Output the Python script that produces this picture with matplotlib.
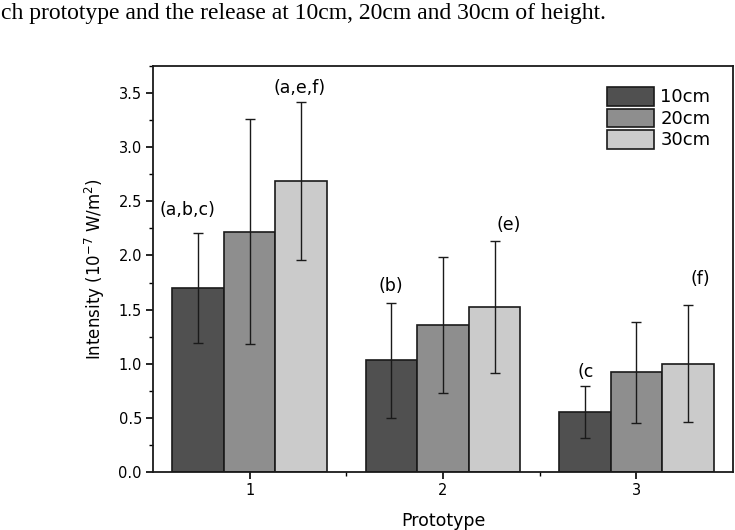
import numpy as np
import matplotlib
matplotlib.use("Agg")
import matplotlib.pyplot as plt
from matplotlib.ticker import MultipleLocator, FixedLocator

# data
prototypes = [1, 2, 3]
heights = ["10cm", "20cm", "30cm"]
mean_10 = [1.70, 1.03, 0.55]
mean_20 = [2.22, 1.36, 0.92]
mean_30 = [2.69, 1.52, 1.00]
err_10 = [0.51, 0.53, 0.24]
err_20 = [1.04, 0.63, 0.47]
err_30 = [0.73, 0.61, 0.54]
letters = ["(a,b,c)", "(a,e,f)", "(b)", "(e)", "(c", "(f)"]
letter_x = [0.68, 1.26, 1.73, 2.34, 2.74, 3.33]
letter_y = [2.42, 3.55, 1.72, 2.28, 0.92, 1.78]

colors = ["#505050", "#8e8e8e", "#cbcbcb"]

plt.rcParams['font.family'] = ['DejaVu Sans']

fig = plt.figure(figsize=(7.35, 5.3), dpi=100)
ax = fig.add_axes([153/735, 1 - 472/530, 580/735, 406/530])

x = np.array(prototypes, dtype=float)
w = 0.8 / 3
means = [mean_10, mean_20, mean_30]
errs = [err_10, err_20, err_30]
for i in range(3):
    ax.bar(x + (i - 1) * w, means[i], width=w, color=colors[i],
           edgecolor="#1a1a1a", linewidth=1.2, label=heights[i], zorder=2)
    ax.errorbar(x + (i - 1) * w, means[i], yerr=errs[i], fmt="none",
                ecolor="#1a1a1a", elinewidth=1.0, capsize=3.4, capthick=1.0, zorder=3)

for t, tx, ty in zip(letters, letter_x, letter_y):
    ax.text(tx, ty, t, ha="center", va="center", fontsize=12.5)

ax.set_xlim(0.5, 3.5)
ax.set_ylim(0, 3.75)
ax.set_xticks(prototypes)
ax.xaxis.set_minor_locator(FixedLocator([1.5, 2.5]))
ax.yaxis.set_major_locator(MultipleLocator(0.5))
ax.yaxis.set_minor_locator(MultipleLocator(0.25))
ax.yaxis.set_major_formatter(matplotlib.ticker.FormatStrFormatter("%.1f"))
ax.tick_params(which="major", direction="out", length=5, width=1.2, labelsize=10.5, pad=3)
ax.tick_params(which="minor", direction="out", length=3, width=1.0)
ax.tick_params(top=False, right=False, which="both")
for s in ax.spines.values():
    s.set_linewidth(1.3)
    s.set_color("#1a1a1a")

ax.set_xlabel("Prototype", fontsize=12.5, labelpad=10)
ax.set_ylabel(r"Intensity (10$^{-7}$ W/m$^{2}$)", fontsize=12, labelpad=8)

ax.legend(loc="upper left", bbox_to_anchor=((607 - 153) / 580, (472 - 87) / 406),
          frameon=False, fontsize=13, handlelength=2.6, handleheight=1.2,
          handletextpad=0.35, labelspacing=0.12, borderpad=0, borderaxespad=0)

fig.text(1/735, 1 - 19/530, "ch prototype and the release at 10cm, 20cm and 30cm of height.",
         family="Liberation Serif", fontsize=17, ha="left", va="baseline")

fig.savefig("out.png", dpi=100)
